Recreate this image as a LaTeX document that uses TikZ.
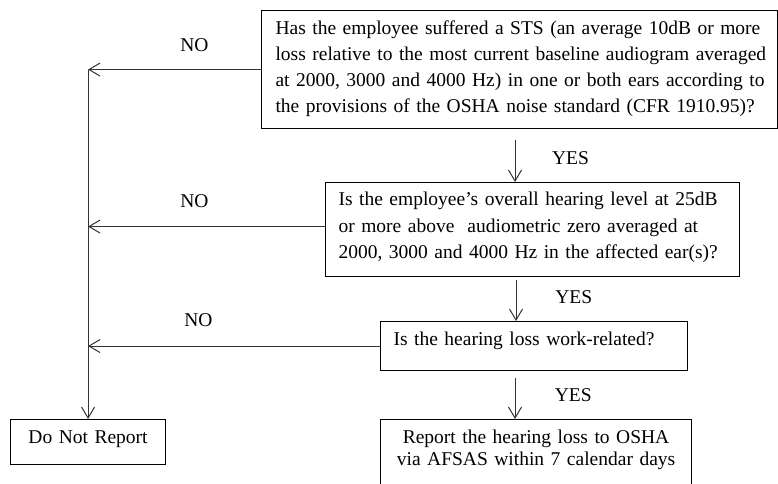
\documentclass[tikz,border=0pt]{standalone}
\usepackage{fontspec}
\setmainfont{Liberation Serif}
\usetikzlibrary{arrows.meta}
\begin{document}
\begin{tikzpicture}[x=1pt,y=-1pt,
  box/.style={draw=black, line width=1.1pt, inner ysep=0pt, anchor=north west,
              font=\fontsize{19.5}{26}\selectfont},
  arr/.style={draw=black!80, line width=1pt,
              -{Straight Barb[length=11pt,width=13pt,line width=1pt]}},
  lab/.style={font=\fontsize{19.5}{24}\selectfont, inner sep=0pt}]
\useasboundingbox (0,0) rectangle (778,483);

\node[box, inner xsep=14pt, text width=488pt, align=left] (q1) at (261,10)
  {\mbox{\rule{0pt}{24pt}Has the employee suffered a STS (an average 10dB or more}\\
   \mbox{loss relative to the most current baseline audiogram averaged}\\
   \mbox{at 2000, 3000 and 4000 Hz) in one or both ears according to}\\
   \mbox{the provisions of the OSHA noise standard (CFR 1910.95)?\rule[-16pt]{0pt}{16pt}}};

\node[box, inner xsep=13pt, text width=388pt, align=left,
      font=\fontsize{19.5}{26.5}\selectfont] (q2) at (325,182)
  {\mbox{\rule{0pt}{23pt}Is the employee’s overall hearing level at 25dB}\\
   \mbox{or more above\ \ audiometric zero averaged at}\\
   \mbox{2000, 3000 and 4000 Hz in the affected ear(s)?\rule[-18pt]{0pt}{18pt}}};

\node[box, inner xsep=13pt, text width=281pt, align=left] (q3) at (380,321)
  {\mbox{\rule{0pt}{24pt}Is the hearing loss work-related?\rule[-25pt]{0pt}{25pt}}};

\node[box, inner xsep=13pt, text width=285pt, align=center] (q4) at (380,419)
  {\mbox{\rule{0pt}{24pt}Report the hearing loss to OSHA}\\[-4pt]
   \mbox{via AFSAS within 7 calendar days\rule[-40pt]{0pt}{40pt}}};

\node[box, inner xsep=5pt, text width=145pt, align=center] (dnr) at (10,419)
  {\mbox{\rule{0pt}{24pt}Do Not Report\rule[-21pt]{0pt}{21pt}}};

% NO branches
\draw[arr] (q1.west) -- (q1.west -| dnr.north);
\draw[arr] ([yshift=3pt]q2.west) -- ([yshift=3pt]q2.west -| dnr.north);
\draw[arr] (q3.west) -- (q3.west -| dnr.north);
\draw[arr] (q1.west -| dnr.north) -- (dnr.north);

% YES branches
\coordinate (s1) at (515,140);
\coordinate (s2) at (516,280);
\coordinate (s3) at (515,378);
\draw[arr] (s1) -- (s1 |- q2.north);
\draw[arr] (s2) -- (s2 |- q3.north);
\draw[arr] (s3) -- (s3 |- q4.north);

% labels
\node[lab] (no1) at (194.5,45.3) {NO};
\node[lab] (no2) at (194.5,201.3) {NO};
\node[lab] (no3) at (198.5,319.7) {NO};
\node[lab] (yes1) at (570.5,158.3) {YES};
\node[lab] (yes2) at (573.7,297.5) {YES};
\node[lab] (yes3) at (573.3,395.2) {YES};
\end{tikzpicture}
\end{document}
